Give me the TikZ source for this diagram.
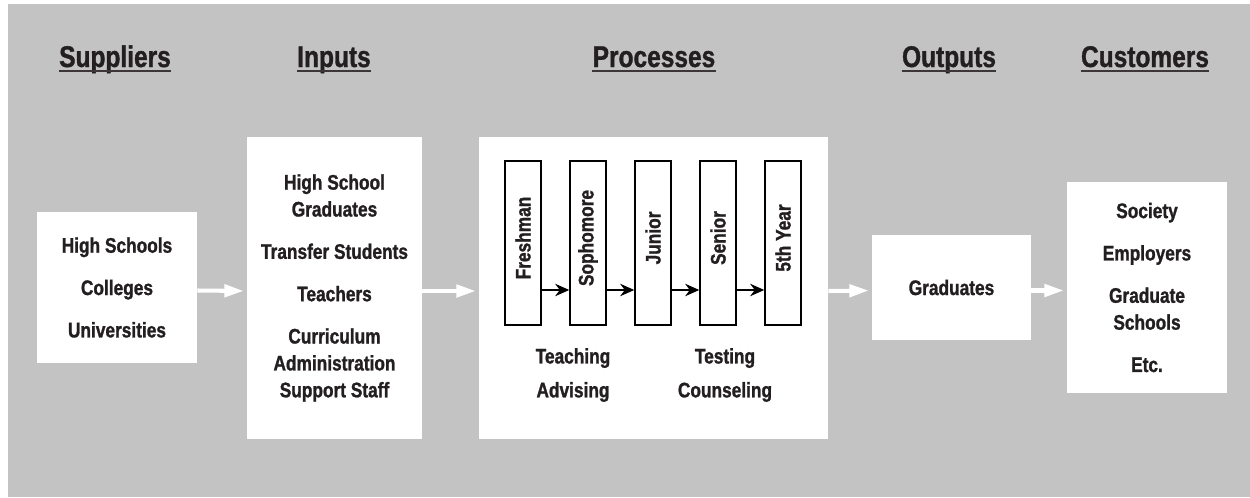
\documentclass[tikz,border=0pt]{standalone}
\usepackage{fontspec}
\usepackage{graphicx}
\setmainfont[FakeStretch=0.82, BoldFeatures={FakeBold=1.2}]{Liberation Sans}
\usetikzlibrary{arrows.meta}

\definecolor{panel}{HTML}{C3C3C3}
\definecolor{ink}{HTML}{231F20}
\definecolor{rulegray}{HTML}{3C3638}
\newcommand{\pxu}{0.02cm}

\begin{document}
\begin{tikzpicture}[
    x = 0.02cm, y = -0.02cm, % pixel grid, y runs downwards
    > = {Stealth[length=8pt, width=7pt]}, % arrow head style
    every node/.style = {font=\bfseries\fontsize{12}{15.3}\selectfont,
        text=ink, align=center}
    ]

    \tikzstyle{panelbox}=[fill=white, inner sep=0pt]
    \tikzstyle{yearbox}=[draw=black, line width=0.8pt, fill=white,
    minimum width=36*\pxu, minimum height=164*\pxu, inner sep=0pt]
    \tikzstyle{heading}=[font=\bfseries\fontsize{17}{19}\selectfont,
    anchor=base, inner sep=0pt]
    \tikzstyle{flow}=[white, line width=2.3pt,
    -{Triangle[length=11pt, width=7pt]}, shorten >=3*\pxu]

    % backdrop
    \fill[white] (0,0) rectangle (1250,497);
    \fill[panel] (8,4) rectangle (1250,497);

    % column titles
    \node[heading] (hsup) at (115,67) {Suppliers};
    \node[heading] (hinp) at (334,67) {Inputs};
    \node[heading] (hpro) at (654,67) {Processes};
    \node[heading] (hout) at (949,67) {Outputs};
    \node[heading] (hcus) at (1145,67) {Customers};
    \foreach \h in {hsup,hinp,hpro,hout,hcus}
        \draw[rulegray, line width=1.1pt] ([yshift=-4*\pxu]\h.base west)
            -- ([yshift=-4*\pxu]\h.base east);

    % the five boxes
    \node[panelbox, minimum width=160*\pxu, minimum height=151*\pxu] (sup)
        at (117,287.5) {High Schools\\[8.8pt]Colleges\\[8.8pt]Universities};
    \node[panelbox, minimum width=175*\pxu, minimum height=302*\pxu] (inp)
        at (334.5,288) {High School\\Graduates\\[8.8pt]Transfer Students\\[8.8pt]Teachers\\[8.8pt]Curriculum\\Administration\\Support Staff};
    \node[panelbox, minimum width=349*\pxu, minimum height=302*\pxu] (pro)
        at (653.5,288) {};
    \node[panelbox, minimum width=159*\pxu, minimum height=105*\pxu] (out)
        at (951.5,287.5) {Graduates};
    \node[panelbox, minimum width=160*\pxu, minimum height=211*\pxu] (cus)
        at (1147,287.5) {Society\\[8.8pt]Employers\\[8.8pt]Graduate\\Schools\\[8.8pt]Etc.};

    % years inside the process box
    \foreach \yr/\name [count=\i] in {Freshman/fr, Sophomore/so, Junior/ju,
        Senior/se, 5th Year/fy}
        \node[yearbox] (\name) at (458+65*\i,243)
            {\rotatebox{90}{\hspace*{0.2cm}\yr}};
    \foreach \a/\b in {fr/so, so/ju, ju/se, se/fy}
        \draw[->, line width=1.2pt] ([yshift=-47*\pxu]\a.east)
            -- ([yshift=-47*\pxu]\b.west);

    \node (tch) at (573,375) {Teaching\\[4pt]Advising};
    \node (tst) at (725,375) {Testing\\[4pt]Counseling};

    % white flow arrows between boxes
    \foreach \a/\b in {sup/inp, inp/pro, pro/out, out/cus}
        \draw[flow] ([yshift=-3*\pxu]\a.east) -- ([yshift=-3*\pxu]\b.west);

\end{tikzpicture}
\end{document}
